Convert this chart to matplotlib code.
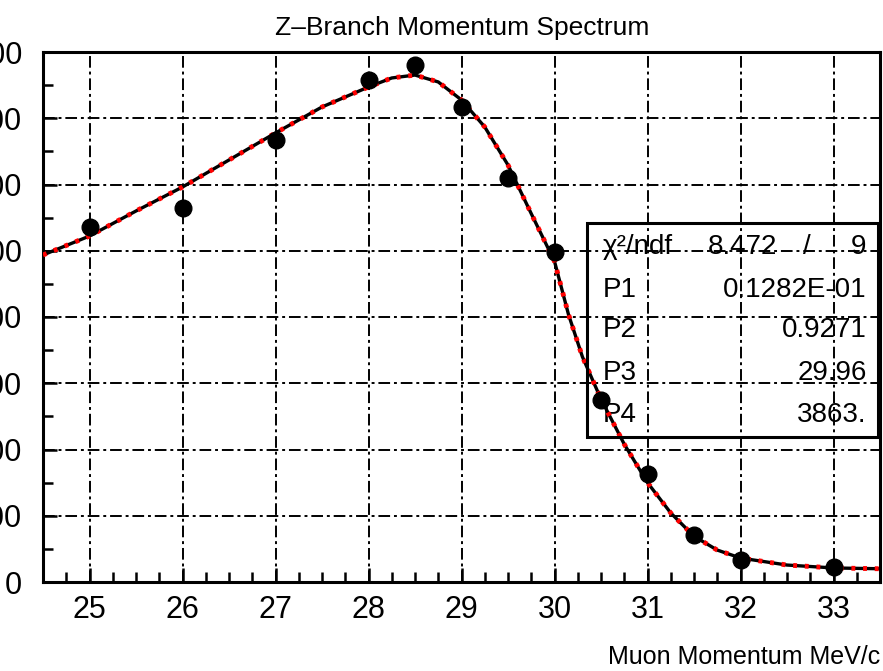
import numpy as np
import matplotlib
matplotlib.use('Agg')
import matplotlib.pyplot as plt
from matplotlib.patches import Rectangle
from matplotlib.ticker import MultipleLocator

plt.rcParams['font.family'] = ['Liberation Sans Narrow', 'Liberation Sans', 'DejaVu Sans']

# measured points
mom = [25, 26, 27, 28, 28.5, 29, 29.5, 30, 30.5, 31, 31.5, 32, 33]
counts = [2680, 2823, 3336, 3789, 3902, 3585, 3049, 2490, 1374, 815, 355, 166, 113]
errs = [52, 53, 58, 62, 62, 60, 55, 50, 37, 28, 19, 13, 11]

# fitted curve
fit_x = [24.5, 25, 25.5, 26, 26.5, 27, 27.5, 28, 28.25, 28.5, 28.75, 29, 29.25,
         29.5, 29.75, 30, 30.15, 30.3, 30.5, 30.75, 31, 31.25, 31.5, 31.75, 32,
         32.5, 33, 33.5]
fit_y = [2468, 2611, 2800, 2981, 3185, 3389, 3585, 3736, 3804, 3826, 3774, 3638, 3434,
         3147, 2780, 2420, 2020, 1700, 1380, 1040, 750, 521, 345, 241, 181,
         128, 106, 100]

stat_names = ['P1', 'P2', 'P3', 'P4']
stat_vals = ['0.1282E-01', '0.9271', '29.96', '3863.']
chi2 = '8.472'
ndf = '9'

fig = plt.figure(figsize=(8.83, 6.71), dpi=100)
ax = fig.add_axes([43/883, 89/671, 837/883, 530/671])

ax.plot(fit_x, fit_y, color='black', lw=2.4, zorder=3)
ax.plot(fit_x, fit_y, color='red', lw=3.5, linestyle=(0, (0.8, 1.6)), zorder=4)
ax.errorbar(mom, counts, yerr=errs, fmt='o', color='black', ms=12,
            elinewidth=1.6, capsize=0, zorder=5)

ax.set_xlim(24.5, 33.5)
ax.set_ylim(0, 4000)
ax.xaxis.set_major_locator(MultipleLocator(1))
ax.xaxis.set_minor_locator(MultipleLocator(0.25))
ax.yaxis.set_major_locator(MultipleLocator(500))
ax.yaxis.set_minor_locator(MultipleLocator(250))
ax.tick_params(which='both', direction='in', width=1.8, labelsize=22)
ax.tick_params(which='major', length=10)
ax.tick_params(which='minor', length=7)
ax.tick_params(axis='x', pad=9)
ax.tick_params(axis='y', pad=15)
ax.grid(which='major', color='black', linestyle=(0, (6, 2, 1.5, 2)), lw=1.4)
for s in ax.spines.values():
    s.set_linewidth(2.2)

# stats box
ax.add_patch(Rectangle((0.650, 0.274), 0.348, 0.403, transform=ax.transAxes,
                       fill=False, ec='black', lw=2.2, zorder=6, clip_on=False))
fs = 20
ax.text(0.669, 0.632, 'χ²/ndf', transform=ax.transAxes, fontsize=fs, va='center')
ax.text(0.836, 0.632, chi2, transform=ax.transAxes, fontsize=fs, va='center', ha='center')
ax.text(0.913, 0.632, '/', transform=ax.transAxes, fontsize=fs, va='center', ha='center')
ax.text(0.984, 0.632, ndf, transform=ax.transAxes, fontsize=fs, va='center', ha='right')
rows_y = [0.551, 0.475, 0.394, 0.315]
for yy, n, v in zip(rows_y, stat_names, stat_vals):
    ax.text(0.669, yy, n, transform=ax.transAxes, fontsize=fs, va='center')
    ax.text(0.984, yy, v, transform=ax.transAxes, fontsize=fs, va='center', ha='right')

fig.text(0.523, 1 - 28/671, 'Z\u2013Branch Momentum Spectrum', fontsize=19,
         ha='center', va='center')
fig.text(880/883, 1 - 657/671, 'Muon Momentum MeV/c', fontsize=18,
         ha='right', va='center')

fig.savefig('out.png', dpi=100)
